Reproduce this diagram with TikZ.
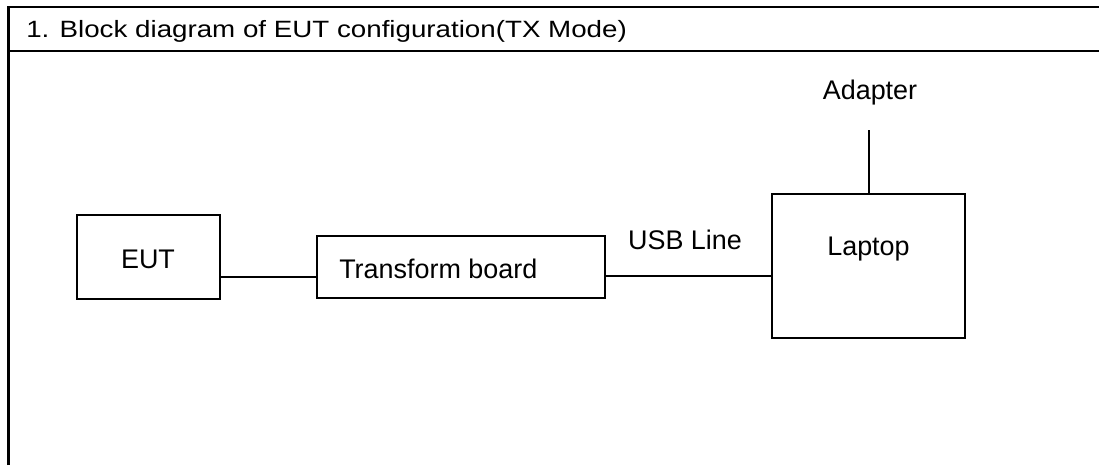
\documentclass[tikz,border=0pt]{standalone}
\usepackage{fontspec}
\usepackage{graphicx}
\setmainfont{Liberation Sans}
\begin{document}
\begin{tikzpicture}[x=0.75pt,y=-0.75pt,
  frameline/.style={line width=1.6pt,black},
  box/.style={draw,line width=1.1pt,inner sep=0pt,minimum width=#1},
  wire/.style={line width=1.1pt},
  lbl/.style={font=\fontsize{20.2}{24}\selectfont,inner sep=0pt,anchor=base},
  title/.style={font=\fontsize{20.8}{24}\selectfont,inner sep=0pt,anchor=base west}]
\useasboundingbox (0,0) rectangle (1099,465);

% table frame with header row
\coordinate (ftl) at (8.5,7);
\coordinate (fhl) at (8.5,51);
\coordinate (fbl) at (8.5,465);
\coordinate (ftr) at (1099,7);
\coordinate (fhr) at (1099,51);
\draw[frameline] (fbl) -- (ftl) -- (ftr);
\draw[frameline] (fhl) -- (fhr);
\node[title] (head) at (26,37) {\scalebox{1}[0.85]{1. Block diagram of EUT configuration(TX Mode)}};

% equipment blocks
\node[box=107.25pt,minimum height=63pt] (eut) at (148.5,257) {};
\node[box=216pt,minimum height=46.5pt] (tb) at (461,267) {};
\node[box=144.75pt,minimum height=108pt] (laptop) at (868.5,266) {};

\node[lbl] (eutt) at (148,268) {EUT};
\node[lbl,anchor=base west] (tbt) at (339,278) {Transform board};
\node[lbl] (lapt) at (868.5,255) {Laptop};
\node[lbl] (adapter) at (870,99) {Adapter};
\node[lbl] (usb) at (685,249) {USB Line};

% cabling
\coordinate (adpend) at (869,130);
\draw[wire] (eut.east |- 0,277) -- (tb.west |- 0,277);
\draw[wire] (tb.east |- 0,276) -- (laptop.west |- 0,276);
\draw[wire] (laptop.north -| adpend) -- (adpend);
\end{tikzpicture}
\end{document}
